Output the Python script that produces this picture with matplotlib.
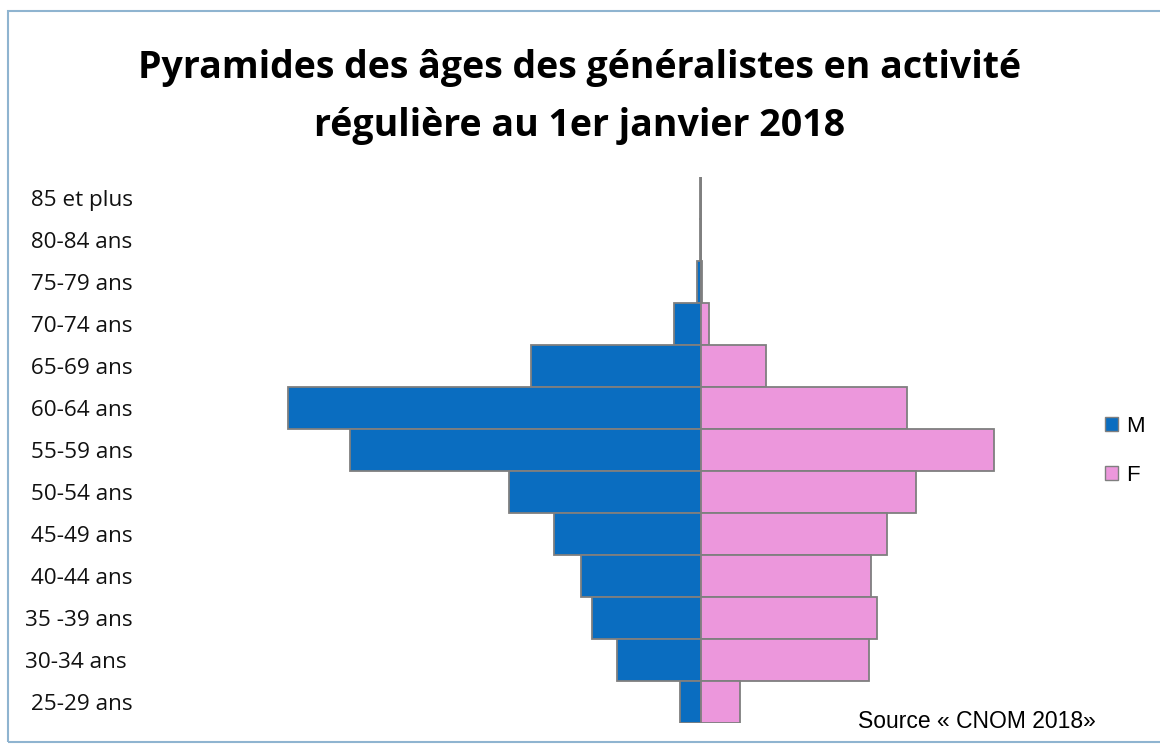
import matplotlib
matplotlib.use("Agg")
import matplotlib.pyplot as plt
from matplotlib.patches import Rectangle, Patch

categories = [" 85 et plus", " 80-84 ans", " 75-79 ans", " 70-74 ans", " 65-69 ans",
              " 60-64 ans", " 55-59 ans", " 50-54 ans", " 45-49 ans", " 40-44 ans",
              "35 -39 ans", "30-34 ans", " 25-29 ans"]
hommes = [14, 28, 105, 730, 4760, 11540, 9815, 5375, 4090, 3360, 3025, 2325, 570]
femmes = [8, 14, 28, 225, 1840, 5795, 8205, 6020, 5210, 4785, 4955, 4730, 1110]
series_labels = ["M", "F"]

W, H = 1160, 744
fig = plt.figure(figsize=(W / 100, H / 100), dpi=100)

# frame
fig.patches.append(Rectangle((8 / W, 1 - 742 / H), 1.2, (742 - 11) / H,
                             transform=fig.transFigure, fill=False,
                             edgecolor="#8fb4d0", linewidth=1.5))

ax_l, ax_r = 150, 1050
ax_t, ax_b = 177, 723
ax = fig.add_axes([ax_l / W, 1 - ax_b / H, (ax_r - ax_l) / W, (ax_b - ax_t) / H])
center = 700.5
scale = 28.0
ax.set_xlim(-(center - ax_l) * scale, (ax_r - center) * scale)
ax.set_ylim(len(categories) - 0.5, -0.5)

y = list(range(len(categories)))
ax.barh(y, [-v for v in hommes], height=1.0, color="#0A6DC0",
        edgecolor="#7f7f7f", linewidth=1.3, label=series_labels[0])
ax.barh(y, femmes, height=1.0, color="#EC97DC",
        edgecolor="#7f7f7f", linewidth=1.3, label=series_labels[1])

for s in ax.spines.values():
    s.set_visible(False)
ax.set_xticks([])
ax.set_yticks(y)
ax.set_yticklabels(categories, fontsize=16.2, family="Open Sans", color="#111111")
ax.tick_params(axis="y", length=0, pad=(ax_l - 25) * 0.72)
for lab in ax.get_yticklabels():
    lab.set_horizontalalignment("left")

fig.text(580 / W, 1 - 97 / H, "Pyramides des âges des généralistes en activité\nrégulière au 1er janvier 2018",
         ha="center", va="center", fontsize=27, fontweight="bold", family="Open Sans",
         linespacing=1.68, color="black")

handles = [Patch(facecolor="#0A6DC0", edgecolor="#7f7f7f", linewidth=1.0),
           Patch(facecolor="#EC97DC", edgecolor="#7f7f7f", linewidth=1.0)]
fig.legend(handles, series_labels, loc="center left",
           bbox_to_anchor=(1089 / W, 1 - 451 / H), frameon=False,
           prop={"family": "Liberation Sans", "size": 16},
           handlelength=0.6, handleheight=0.6, handletextpad=0.35, labelspacing=1.25,
           borderpad=0.2)

fig.text(858 / W, 1 - 721 / H, "Source « CNOM 2018»", ha="left", va="center",
         fontsize=16.5, family="Liberation Sans", color="black")

fig.savefig("out.png", dpi=100, facecolor="white")
